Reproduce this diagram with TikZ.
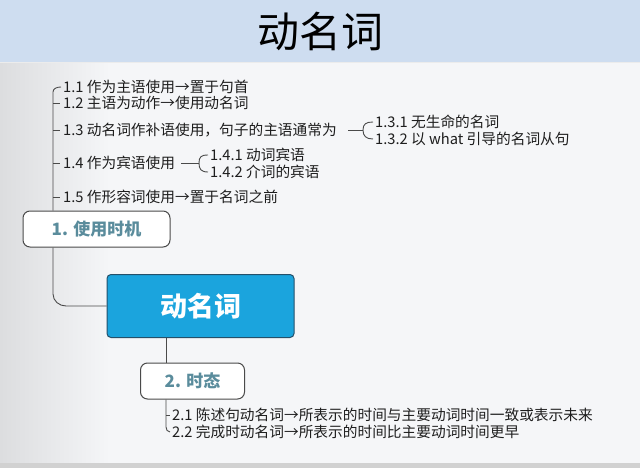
\documentclass[tikz,border=0pt]{standalone}
\usepackage{fontspec}
\setmainfont{Noto Sans CJK SC}
\definecolor{band}{HTML}{CEDDF0}
\definecolor{bodybg}{HTML}{F5F6F8}
\definecolor{leftbg}{HTML}{DCDDDF}
\definecolor{hub}{HTML}{1BA4DD}
\definecolor{hubline}{HTML}{24506A}
\definecolor{boxtext}{HTML}{5A8C9C}
\definecolor{itemtext}{HTML}{1E1E1E}
\definecolor{linecol}{HTML}{4A4A4A}
\begin{document}
\begin{tikzpicture}[x=1pt,y=-1pt,
  item/.style={anchor=west,inner sep=0pt,font=\fontsize{14.7}{15}\selectfont,text=itemtext},
  branchbox/.style={draw=linecol,line width=1pt,rounded corners=7pt,fill=white,text=boxtext,font=\fontsize{17}{18}\selectfont\bfseries,minimum height=36pt},
  conn/.style={draw=linecol,line width=0.9pt}]
\useasboundingbox (0,0) rectangle (640,468);
% background
\fill[bodybg] (0,62) rectangle (640,468);
\shade[left color=leftbg,right color=bodybg] (0,62) rectangle (110,468);
\fill[band] (0,0) rectangle (640,62);
\draw[white!85!gray,line width=0.6pt] (0,62) -- (640,62);
\fill[black!18] (0,463) rectangle (640,468);
\node (title) at (320,31) {\fontsize{42}{44}\selectfont 动名词};
% hub
\node[draw=hubline,line width=1pt,fill=hub,rounded corners=4pt,minimum width=187pt,minimum height=63pt,text=white,font=\fontsize{27}{29}\selectfont\bfseries] (hub) at (200.5,306) {动名词};
% branch boxes
\node[branchbox,minimum width=147pt] (b1) at (96.5,229) {1. 使用时机};
\node[branchbox,minimum width=104pt] (b2) at (192.5,381) {2. 时态};
% items of branch 1
\node[item] (i11) at (63,87) {1.1 作为主语使用→置于句首};
\node[item] (i12) at (63,103) {1.2 主语为动作→使用动名词};
\node[item] (i13) at (63,130) {1.3 动名词作补语使用，句子的主语通常为};
\node[item] (i14) at (63,163) {1.4 作为宾语使用};
\node[item] (i15) at (63,197) {1.5 作形容词使用→置于名词之前};
\node[item] (i131) at (375,122) {1.3.1 无生命的名词};
\node[item] (i132) at (375,139) {1.3.2 以 what 引导的名词从句};
\node[item] (i141) at (210,155) {1.4.1 动词宾语};
\node[item] (i142) at (210,172) {1.4.2 介词的宾语};
% items of branch 2
\node[item] (i21) at (172,415) {2.1 陈述句动名词→所表示的时间与主要动词时间一致或表示未来};
\node[item] (i22) at (172,432) {2.2 完成时动名词→所表示的时间比主要动词时间更早};
% spine of branch 1
\coordinate (s1) at (b1.north -| 53,0);
\draw[conn] (s1) -- (53,92) to[out=90,in=180] ([xshift=-2pt]i11.west);
\foreach \n in {i12,i13,i14,i15}{
  \draw[conn] (53,0 |- \n.west) -- ([xshift=-3pt]\n.west);
}
% sub-bracket 1.3
\coordinate (k13) at ([xshift=-12pt]i131.west |- i13.west);
\draw[conn] ([xshift=-15pt]k13) -- (k13);
\draw[conn] ([xshift=-2pt]i131.west) .. controls +(-7,0) and +(0,-6) .. (k13)
  .. controls +(0,6) and +(-7,0) .. ([xshift=-2pt]i132.west);
% sub-bracket 1.4
\coordinate (k14) at ([xshift=-11pt]i141.west |- i14.west);
\draw[conn] ([xshift=-18pt]k14) -- (k14);
\draw[conn] ([xshift=-2pt]i141.west) .. controls +(-7,0) and +(0,-6) .. (k14)
  .. controls +(0,6) and +(-7,0) .. ([xshift=-2pt]i142.west);
% box1 to hub
\draw[conn] (b1.south -| 53,0) -- (53,294) to[out=-90,in=180] (66,306) -- (hub.west);
% hub to box2
\draw[conn] (hub.south -| 166,0) -- (b2.north -| 166,0);
% box2 to items
\draw[conn] (b2.south -| 166,0) -- (166,427) to[out=-90,in=180] ([xshift=-2pt]i22.west);
\draw[conn] (166,0 |- i21.west) -- ([xshift=-2pt]i21.west);
\end{tikzpicture}
\end{document}
